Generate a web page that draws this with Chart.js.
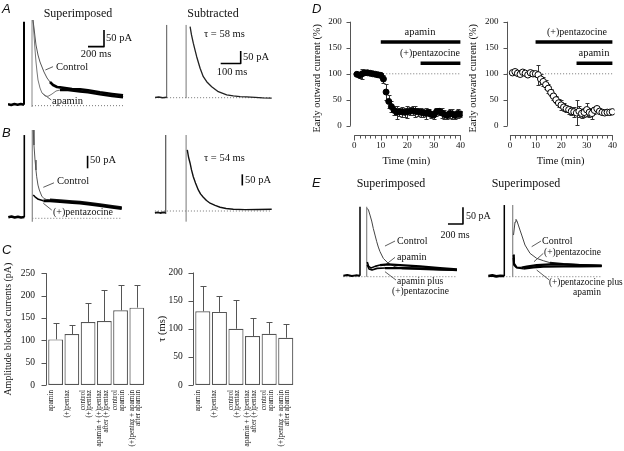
<!DOCTYPE html>
<html><head><meta charset="utf-8">
<script src="https://cdn.jsdelivr.net/npm/chart.js@4"></script>
<style>
html,body{margin:0;padding:0;background:#fff;}
#fig{position:relative;width:624px;height:451px;overflow:hidden;background:#fff;}
#fig canvas{position:absolute;}
.t{position:absolute;font-family:'Liberation Serif','Times New Roman',serif;color:#111;white-space:nowrap;line-height:1;}
.L{position:absolute;font-family:'Liberation Sans',Arial,sans-serif;font-style:italic;color:#111;line-height:1;}
</style></head><body><div id="fig"></div>
<script>
// ---------------- DATA ----------------
// Panel C (bar charts)
const cCategories = ['apamin', '(+)pentaz', ['control', '(+)pentaz'], ['apamin + (+)pentaz', 'after (+)pentaz'], ['control', 'apamin'], ['(+)pentaz + apamin', 'after apamin']];
const cAmplitude = [102, 114, 141, 143, 167, 173];
const cAmplitudeErr = [37, 21, 42, 70, 56, 50];
const cTau = [131, 130, 100, 87, 91, 84];
const cTauErr = [45, 29, 51, 33, 21, 24];
const cAmpTicks = [0, 50, 100, 150, 200, 250];
const cTauTicks = [0, 50, 100, 150, 200];

// Panel D (time courses, % of control)
const dTime = [1,2,3,4,5,6,7,8,9,10,11,12,13,14,15,16,17,18,19,20,21,22,23,24,25,26,27,28,29,30,31,32,33,34,35,36,37,38,39,40];
const dApaminFirst = [99,97,100,102,102,101,100,99,98,97,90,65,47,37,30,26,27,27,26,27,28,29,28,27,26,25,24,26,22,21,27,28,25,22,20,24,23,20,24,23];
const dApaminFirstErr = [4,6,10,4,3,3,3,4,5,5,8,15,12,10,9,12,8,10,9,12,8,9,10,8,9,7,10,7,6,8,8,7,9,8,7,8,9,7,8,6];
const dPentFirst = [102,104,101,99,103,101,98,102,100,100,98,90,85,79,72,64,57,50,44,40,36,33,31,28,27,25,28,24,26,31,26,24,30,33,28,26,25,26,26,27];
const dPentFirstErr = [3,3,5,4,3,4,3,3,4,5,19,10,8,9,8,7,7,7,8,9,8,7,8,8,10,24,10,8,9,12,8,10,7,6,5,4,3,3,3,3];
const dYTicks = [0, 50, 100, 150, 200];
const dXTicks = [0, 10, 20, 30, 40];
const dXMinorTicks = [2,4,6,8,12,14,16,18,22,24,26,28,32,34,36,38];
const dRefLine = [[-1.5, 100], [40, 100]];
// drug applications: [min, level %]
const dLeftApamin = [[10, 161], [40, 161]];
const dLeftPent = [[25, 120], [40, 120]];
const dRightPent = [[10, 161], [40, 161]];
const dRightApamin = [[26, 120], [40, 120]];

// Current traces: [time ms, current pA]
const aLeftPre = [[-200,4],[-160,2],[-120,5],[-80,3],[-40,5],[0,3]];
const aLeftStim = [[0,3],[0,252]];
const aLeftArtifact = [[100,-4],[100,257]];
const aLeftControl = [[112,257],[125,233],[138,206],[150,182],[175,152],[200,131],[225,116],[250,101],[288,83],[325,71],[363,62],[413,56],[450,55],[513,53],[600,50],[700,49],[800,46],[950,40],[1100,35],[1238,31]];
const aLeftApamin = [[112,257],[125,212],[138,167],[150,131],[163,101],[175,77],[200,53],[225,38],[263,29],[300,28],[350,35],[400,44],[450,47],[550,47],[700,43],[800,40],[950,34],[1100,29],[1238,25]];
const aLeftBase = [[100,0],[1238,0]];
const aLeftBar = [[800,177],[1000,177],[1000,227]];
const aLeftCtrlLeader = [[267,107],[363,117]];
const aLeftApLeader = [[225,38],[341,17]];

const aRightPre = [[-58,1],[-40,3],[-20,0],[0,2]];
const aRightStim = [[0,-2],[0,291]];
const aRightArtifact = [[97,-2],[97,291]];
const aRightDiff = [[117,284],[124,251],[133,218],[142,189],[150,164],[167,118],[183,84],[200,64],[225,44],[258,24],[300,11],[333,7],[367,4],[400,3],[442,1],[480,-1],[525,-2]];
const aRightBase = [[-58,0],[525,0]];
const aRightBar = [[270,137],[370,137],[370,187]];

const bLeftPre = [[-200,4],[-160,7],[-120,3],[-80,6],[-40,3],[0,5]];
const bLeftStim = [[0,4],[0,333]];
const bLeftArtifact = [[100,-14],[100,353]];
const bLeftControl = [[112,353],[121,293],[134,233],[146,193],[155,166],[171,133],[188,113],[218,89],[246,79],[280,75],[321,74],[446,71],[600,67],[696,65],[800,61],[946,55],[1100,48],[1218,43]];
const bLeftPentazocine = [[112,93],[134,86],[175,76],[238,70],[321,70],[446,67],[600,63],[696,61],[800,57],[946,51],[1100,44],[1218,39]];
const bLeftBase = [[100,0],[1218,0]];
const bLeftBar = [[791,200],[791,250]];
const bLeftCtrlLeader = [[238,124],[371,142]];
const bLeftPentLeader = [[238,60],[343,33]];

const bRightPre = [[-54,-8],[-40,-6],[-27,-9],[-13,-6],[0,-7]];
const bRightStim = [[0,-14],[0,342]];
const bRightArtifact = [[102,-48],[102,342]];
const bRightDiff = [[108,275],[114,243],[122,215],[129,185],[138,154],[149,126],[163,95],[174,77],[188,62],[204,47],[222,35],[247,25],[272,17],[302,11],[338,8],[397,6],[462,7],[530,8]];
const bRightBase = [[-54,0],[530,0]];
const bRightBar = [[383,115],[383,165]];

const eLeftPre = [[-222,3],[-170,5],[-110,2],[-55,4],[0,3]];
const eLeftStim = [[0,3],[0,210]];
const eLeftArtifact = [[89,0],[89,210]];
const eLeftControl = [[97,205],[113,200],[133,185],[156,167],[177,145],[200,125],[223,105],[244,89],[267,75],[311,55],[377,40],[467,30],[556,25],[800,23],[1067,21],[1293,20]];
const eLeftApamin = [[97,44],[113,32],[147,26],[200,31],[267,35],[373,37],[533,35],[800,31],[1067,26],[1293,22]];
const eLeftApaminPent = [[97,35],[120,23],[160,20],[227,25],[333,26],[533,26],[800,25],[1067,23],[1293,20]];
const eLeftBase = [[-222,0],[1293,0]];
const eLeftBar = [[1173,158],[1373,158],[1373,208]];
const eLeftCtrlLeader = [[333,92],[467,107]];
const eLeftApLeader = [[320,32],[467,58]];
const eLeftApPentLeader = [[333,15],[480,-10]];

const eRightPre = [[-213,2],[-160,4],[-107,1],[-53,3],[0,2]];
const eRightStim = [[0,2],[0,215]];
const eRightArtifact = [[112,0],[112,215]];
const eRightControl = [[123,125],[143,164],[156,172],[169,167],[187,155],[209,140],[232,125],[276,95],[343,70],[432,55],[520,48],[609,42],[787,38],[1009,35],[1298,33]];
const eRightPentazocine = [[123,65],[129,40],[165,28],[232,27],[299,30],[432,35],[609,37],[787,37],[1009,35],[1298,33]];
const eRightPentApamin = [[123,56],[129,35],[165,27],[253,24],[387,28],[520,30],[787,31],[1009,31],[1298,32]];
const eRightBase = [[-213,0],[1298,0]];
const eRightCtrlLeader = [[365,90],[489,107]];
const eRightPentLeader = [[396,45],[520,70]];
const eRightPentApLeader = [[432,20],[600,-10]];

// Text annotations: [text, x, yCenter, align, size, kind]
const texts = [
  ['A', 2, 8, 'l', 13, 'L'], ['B', 2, 132, 'l', 13, 'L'], ['C', 2, 249, 'l', 13, 'L'], ['D', 312, 8, 'l', 13, 'L'], ['E', 312, 182, 'l', 13, 'L'],
  ['Superimposed', 78, 13, 'c', 12], ['Subtracted', 213, 13, 'c', 12],
  ['50 pA', 106, 38, 'l', 10.5], ['200 ms', 96, 54, 'c', 10.5], ['Control', 56, 67, 'l', 10.5], ['apamin', 52, 101, 'l', 10.5],
  ['τ = 58 ms', 204, 34, 'l', 10.5], ['50 pA', 243, 57, 'l', 10.5], ['100 ms', 232, 72, 'c', 10.5],
  ['50 pA', 90, 160, 'l', 10.5], ['Control', 57, 181, 'l', 10.5], ['(+)pentazocine', 53, 212, 'l', 10],
  ['τ = 54 ms', 204, 158, 'l', 10.5], ['50 pA', 245, 180, 'l', 10.5],
  ['apamin', 420, 32, 'c', 10.5], ['(+)pentazocine', 430, 53, 'c', 10], ['(+)pentazocine', 577, 32, 'c', 10], ['apamin', 594, 53, 'c', 10.5],
  ['Superimposed', 391, 183, 'c', 12], ['Superimposed', 526, 183, 'c', 12],
  ['50 pA', 466, 216, 'l', 10], ['200 ms', 455, 235, 'c', 10], ['Control', 397, 241, 'l', 10], ['apamin', 397, 257, 'l', 10],
  ['apamin plus', 397, 282, 'l', 9.5], ['(+)pentazocine', 392, 292, 'l', 9.5],
  ['Control', 542, 241, 'l', 10], ['(+)pentazocine', 544, 253, 'l', 9.5], ['(+)pentazocine plus', 549, 283, 'l', 9.3], ['apamin', 573, 293, 'l', 9.5]
];

// ---------------- RENDER ----------------
Chart.defaults.font.family = "'Liberation Serif','Times New Roman',serif";
Chart.defaults.color = '#111';
const fig = document.getElementById('fig');
function canvasAt(left, top, w, h) {
  const c = document.createElement('canvas');
  c.width = w; c.height = h;
  c.style.left = left + 'px'; c.style.top = top + 'px';
  c.style.width = w + 'px'; c.style.height = h + 'px';
  fig.appendChild(c);
  return c;
}
const pts = arr => arr.map(p => ({x: p[0], y: p[1]}));
const zip = (xs, ys) => xs.map((x, i) => [x, ys[i]]);
const baseOpts = () => ({responsive: false, animation: false, devicePixelRatio: 1, events: [],
  plugins: {legend: {display: false}, tooltip: {enabled: false}}});

function drawErr(chart, o) {
  const {ctx} = chart; const ys = chart.scales.y;
  chart.data.datasets.forEach((ds, i) => {
    if (!ds.errors) return;
    const meta = chart.getDatasetMeta(i);
    ctx.save(); ctx.strokeStyle = o.color || '#333'; ctx.lineWidth = 1;
    meta.data.forEach((el, j) => {
      const raw = ds.data[j]; const v = typeof raw === 'object' ? raw.y : raw;
      const e = ds.errors[j]; if (!e) return;
      const X = Math.round(el.x) + 0.5;
      const top = Math.round(ys.getPixelForValue(v + e)) + 0.5;
      const bot = o.upOnly ? ys.getPixelForValue(v) : Math.round(ys.getPixelForValue(v - e)) + 0.5;
      const c = o.cap / 2;
      ctx.beginPath(); ctx.moveTo(X, bot); ctx.lineTo(X, top);
      ctx.moveTo(X - c, top); ctx.lineTo(X + c, top);
      if (!o.upOnly) { ctx.moveTo(X - c, bot); ctx.lineTo(X + c, bot); }
      ctx.stroke();
    });
    ctx.restore();
  });
}
const errorBars = {
  id: 'errorBars',
  beforeDatasetsDraw(chart, a, o) { if (o.phase === 'before') drawErr(chart, o); },
  afterDatasetsDraw(chart, a, o) { if (o.phase !== 'before') drawErr(chart, o); }
};
const igorAxes = {
  id: 'igorAxes',
  afterDraw(chart, a, o) {
    const {ctx, chartArea: ca, scales: {x, y}} = chart;
    ctx.save(); ctx.strokeStyle = o.color || '#555'; ctx.lineWidth = 1; ctx.beginPath();
    if (o.y) {
      const X = Math.round(ca.left - (o.y.gap || 0)) + 0.5;
      ctx.moveTo(X, y.getPixelForValue(o.y.from)); ctx.lineTo(X, y.getPixelForValue(o.y.to));
      o.y.ticks.forEach(v => { const Y = Math.round(y.getPixelForValue(v)) + 0.5; ctx.moveTo(X - o.y.len, Y); ctx.lineTo(X, Y); });
    }
    if (o.x) {
      const Y = Math.round(ca.bottom) + 0.5;
      ctx.moveTo(x.getPixelForValue(o.x.from), Y); ctx.lineTo(x.getPixelForValue(o.x.to) + 0.5, Y);
      o.x.major.forEach(v => { const X = Math.round(x.getPixelForValue(v)) + 0.5; ctx.moveTo(X, Y); ctx.lineTo(X, Y + o.x.majorLen); });
      o.x.minor.forEach(v => { const X = Math.round(x.getPixelForValue(v)) + 0.5; ctx.moveTo(X, Y); ctx.lineTo(X, Y + o.x.minorLen); });
    }
    ctx.stroke(); ctx.restore();
  }
};

function traceChart(box, xr, yr, lines) {
  const c = canvasAt(box[0], box[1], box[2], box[3]);
  const o = baseOpts();
  o.layout = {padding: 0};
  o.scales = {x: {type: 'linear', display: false, min: xr[0], max: xr[1]}, y: {type: 'linear', display: false, min: yr[0], max: yr[1]}};
  return new Chart(c, {
    type: 'scatter',
    data: {datasets: lines.map(l => {
      const ds = {data: pts(l.d), showLine: true, pointRadius: 0, borderColor: l.c || '#000', borderWidth: l.w || 1,
        borderDash: l.dash || [], tension: 0, borderCapStyle: 'butt', borderJoinStyle: 'round'};
      if (l.thickFrom !== undefined) {
        ds.segment = {
          borderWidth: s => s.p0.parsed.x >= l.thickFrom ? l.tw : (l.w || 1),
          borderColor: s => s.p0.parsed.x >= l.thickFrom ? (l.tc || '#000') : (l.c || '#000')
        };
      }
      return ds;
    })},
    options: o
  });
}
const DOT = {c: '#777', w: 1, dash: [1, 2]};
const LEAD = {c: '#333', w: 0.8};

// A left
traceChart([8, 15, 120, 97], [-200, 1300], [-19, 272], [
  {d: aLeftStim, c: '#000', w: 2},
  {d: aLeftPre, c: '#000', w: 2.5},
  {d: aLeftControl, c: '#555', w: 1, thickFrom: 320, tw: 2.6, tc: '#000'},
  {d: aLeftApamin, c: '#777', w: 1, thickFrom: 420, tw: 2.6, tc: '#000'},
  {d: aLeftArtifact, c: '#888', w: 1},
  {d: aLeftBar, c: '#000', w: 1.6},
  {d: aLeftCtrlLeader, ...LEAD}, {d: aLeftApLeader, ...LEAD},
  {d: aLeftBase, ...DOT}
]);
// A right
traceChart([150, 20, 126, 84], [-83.5, 546.5], [-25.2, 310.8], [
  {d: aRightDiff, c: '#222', w: 1.3},
  {d: aRightPre, c: '#222', w: 1.5},
  {d: aRightStim, c: '#555', w: 1},
  {d: aRightArtifact, c: '#777', w: 1},
  {d: aRightBar, c: '#000', w: 1.6},
  {d: aRightBase, ...DOT}
]);
// B left
traceChart([8, 125, 120, 100], [-203.75, 1296.25], [-26.8, 373.2], [
  {d: bLeftStim, c: '#000', w: 1.6},
  {d: bLeftPre, c: '#000', w: 2.6},
  {d: bLeftPentazocine, c: '#000', w: 1.5, thickFrom: 230, tw: 2.8, tc: '#000'},
  {d: bLeftControl, c: '#555', w: 1, thickFrom: 300, tw: 2.4, tc: '#111'},
  {d: bLeftArtifact, c: '#888', w: 1.2},
  {d: bLeftBar, c: '#000', w: 1.6},
  {d: bLeftCtrlLeader, ...LEAD}, {d: bLeftPentLeader, ...LEAD},
  {d: bLeftBase, ...DOT}
]);
// B right
traceChart([150, 125, 126, 100], [-78.5, 551.5], [-63, 387], [
  {d: bRightDiff, c: '#111', w: 1.4},
  {d: bRightPre, c: '#111', w: 1.8},
  {d: bRightStim, c: '#555', w: 1.2},
  {d: bRightArtifact, c: '#777', w: 1},
  {d: bRightBar, c: '#000', w: 1.6},
  {d: bRightBase, ...DOT}
]);
// E left
traceChart([340, 200, 130, 82], [-266.7, 1466.7], [-15.9, 230.1], [
  {d: eLeftStim, c: '#000', w: 1.5},
  {d: eLeftPre, c: '#000', w: 2},
  {d: eLeftApamin, c: '#000', w: 1.6, thickFrom: 260, tw: 2.2},
  {d: eLeftApaminPent, c: '#000', w: 1.6, thickFrom: 260, tw: 2.2},
  {d: eLeftControl, c: '#444', w: 1, thickFrom: 550, tw: 2, tc: '#111'},
  {d: eLeftArtifact, c: '#888', w: 1.2},
  {d: eLeftBar, c: '#000', w: 1.6},
  {d: eLeftCtrlLeader, ...LEAD}, {d: eLeftApLeader, ...LEAD}, {d: eLeftApPentLeader, ...LEAD},
  {d: eLeftBase, ...DOT}
]);
// E right
traceChart([485, 200, 122, 82], [-257.3, 1369.3], [-15.9, 230.1], [
  {d: eRightStim, c: '#000', w: 1.5},
  {d: eRightPre, c: '#000', w: 2.6},
  {d: eRightPentazocine, c: '#000', w: 1.8, thickFrom: 230, tw: 2.3},
  {d: eRightPentApamin, c: '#000', w: 1.8, thickFrom: 230, tw: 2.3},
  {d: eRightControl, c: '#444', w: 1, thickFrom: 600, tw: 2, tc: '#111'},
  {d: eRightArtifact, c: '#888', w: 1.2},
  {d: eRightCtrlLeader, ...LEAD}, {d: eRightPentLeader, ...LEAD}, {d: eRightPentApLeader, ...LEAD},
  {d: eRightBase, ...DOT}
]);

// C bar charts
function barChart(box, pad, yWidth, tickPad, ticks, ymax, values, errs, title, titleSize) {
  const o = baseOpts();
  o.plugins.errorBars = {phase: 'after', upOnly: true, cap: 6, color: '#555'};
  o.plugins.igorAxes = {y: {from: 0, to: ymax, ticks: ticks, len: 5, gap: 2}, color: '#555'};
  o.layout = {padding: pad};
  o.scales = {
    x: {grid: {display: false, drawTicks: false}, border: {display: false},
      ticks: {autoSkip: false, minRotation: 90, maxRotation: 90, padding: 5, labelOffset: -5, color: '#222', font: {size: 7.2, lineHeight: 0.9}},
      afterFit: s => { s.height = 66; }},
    y: {min: 0, max: ymax, grid: {display: false, drawTicks: false}, border: {display: false},
      ticks: {padding: tickPad, font: {size: 9.5}},
      afterBuildTicks: s => { s.ticks = ticks.map(v => ({value: v})); },
      afterFit: s => { s.width = yWidth; },
      title: {display: true, text: title, font: {size: titleSize}, padding: {top: 0, bottom: 0}}}
  };
  return new Chart(canvasAt(box[0], box[1], box[2], box[3]), {
    type: 'bar',
    data: {labels: cCategories, datasets: [{data: values, errors: errs, backgroundColor: '#fff', borderColor: '#555',
      borderWidth: 1.2, borderSkipped: false, barPercentage: 0.91, categoryPercentage: 1}]},
    options: o,
    plugins: [errorBars, igorAxes]
  });
}
barChart([0, 255, 155, 196], {left: 2, top: 11.7, right: 2.7, bottom: 0}, 45.5, 12.5, cAmpTicks, 250, cAmplitude, cAmplitudeErr, 'Amplitude blocked currents (pA)', 10);
barChart([156, 255, 148, 196], {left: 0, top: 11.7, right: 3.5, bottom: 0}, 38.5, 11.8, cTauTicks, 200, cTau, cTauErr, 'τ (ms)', 10.5);

// D time courses
function timeChart(box, yWidth, xr, values, errs, filled, bar1, bar2) {
  const o = baseOpts();
  o.plugins.errorBars = {phase: 'before', upOnly: false, cap: 4, color: '#333'};
  o.plugins.igorAxes = {y: {from: 0, to: 200, ticks: dYTicks, len: 4, gap: 0},
    x: {from: 0, to: 40, major: dXTicks, minor: dXMinorTicks, majorLen: 5, minorLen: 3}, color: '#555'};
  o.layout = {padding: {left: 0, top: 11.3, right: 6, bottom: 0}};
  o.scales = {
    x: {type: 'linear', min: xr[0], max: xr[1], grid: {display: false, drawTicks: false}, border: {display: false},
      ticks: {padding: 5, font: {size: 9}},
      afterBuildTicks: s => { s.ticks = dXTicks.map(v => ({value: v})); },
      afterFit: s => { s.height = 37; },
      title: {display: true, text: 'Time (min)', font: {size: 10.5}, padding: {top: 0, bottom: 4}}},
    y: {type: 'linear', min: -17.5, max: 200, grid: {display: false, drawTicks: false}, border: {display: false},
      ticks: {padding: 8.3, font: {size: 9}},
      afterBuildTicks: s => { s.ticks = dYTicks.map(v => ({value: v})); },
      afterFit: s => { s.width = yWidth; },
      title: {display: true, text: 'Early outward current (%)', font: {size: 10.3}, padding: {top: 4, bottom: 0}}}
  };
  return new Chart(canvasAt(box[0], box[1], box[2], box[3]), {
    type: 'scatter',
    data: {datasets: [
      {data: pts(zip(dTime, values)), errors: errs, showLine: false, pointRadius: filled ? 3 : 3.2,
        pointBackgroundColor: filled ? '#000' : '#fff', pointBorderColor: '#000', pointBorderWidth: 1},
      {data: pts(bar1), showLine: true, pointRadius: 0, borderColor: '#000', borderWidth: 3.5, borderCapStyle: 'butt'},
      {data: pts(bar2), showLine: true, pointRadius: 0, borderColor: '#000', borderWidth: 3.5, borderCapStyle: 'butt'},
      {data: pts(dRefLine), showLine: true, pointRadius: 0, borderColor: '#777', borderWidth: 1, borderDash: [1, 2]}
    ]},
    options: o,
    plugins: [errorBars, igorAxes]
  });
}
timeChart([307, 8, 163, 164], 43, [-1.6, 40.86], dApaminFirst, dApaminFirstErr, true, dLeftApamin, dLeftPent);
timeChart([463, 8, 159, 164], 43.7, [-1.27, 40.77], dPentFirst, dPentFirstErr, false, dRightPent, dRightApamin);

// Text
texts.forEach(([txt, x, y, align, size, kind]) => {
  const d = document.createElement('div');
  d.className = kind === 'L' ? 'L' : 't';
  d.textContent = txt;
  d.style.left = x + 'px'; d.style.top = y + 'px'; d.style.fontSize = size + 'px';
  d.style.transform = 'translate(' + (align === 'c' ? '-50%' : '0') + ',-50%)';
  fig.appendChild(d);
});
</script></body></html>
